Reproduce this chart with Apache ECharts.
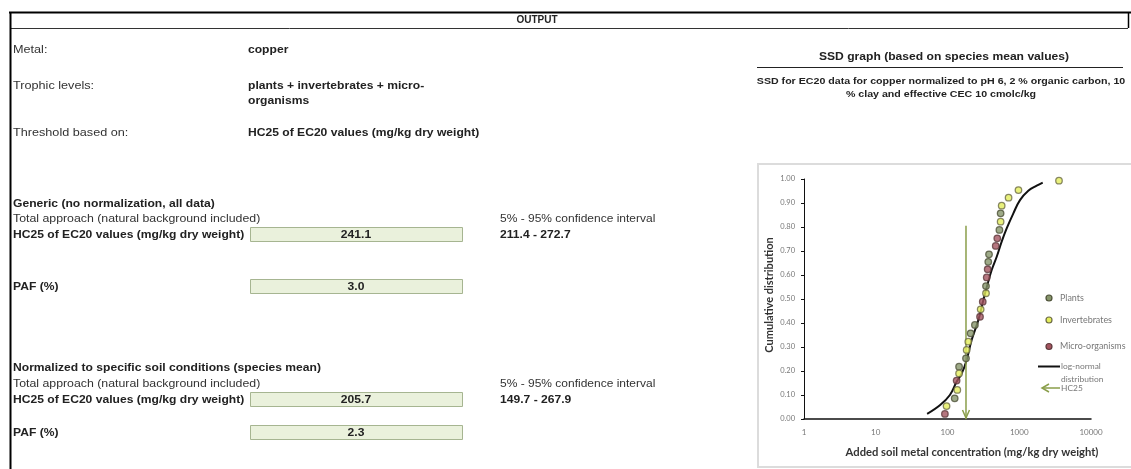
<!DOCTYPE html>
<html>
<head>
<meta charset="utf-8">
<script src="https://cdn.jsdelivr.net/npm/echarts@6/dist/echarts.min.js"></script>
<style>
html,body{margin:0;padding:0;background:#fff;}
#c{width:1131px;height:469px;}
</style>
</head>
<body>
<div id="c"></div>
<script>
// ---------------- data ----------------
const xTickValues = [1, 10, 100, 1000, 10000];
const yTickLabels = ['0.00','0.10','0.20','0.30','0.40','0.50','0.60','0.70','0.80','0.90','1.00'];

const plants = [[550,0.857],[529,0.788],[379,0.686],[370,0.655],[344,0.554],[241,0.392],[210,0.357],[181,0.253],[145,0.218],[126,0.086]];
const invertebrates = [[3580,0.993],[975,0.954],[710,0.922],[569,0.889],[550,0.822],[344,0.524],[290,0.457],[195,0.322],[185,0.288],[145,0.190],[137,0.121],[97,0.054]];
const microOrganisms = [[494,0.753],[470,0.721],[363,0.624],[352,0.590],[310,0.489],[284,0.426],[134,0.160],[92,0.021]];

const logNormalCurve = [[52,0.021],[79,0.058],[108,0.100],[134,0.155],[158,0.190],[185,0.246],[217,0.329],[269,0.412],[316,0.496],[359,0.558],[413,0.621],[485,0.676],[569,0.739],[668,0.794],[828,0.857],[1024,0.912],[1337,0.951],[1750,0.972],[2123,0.985]];

const hc25Arrow = [[181, 0.805]]; // x position, top of arrow

const seriesNames = ['Plants','Invertebrates','Micro-organisms'];
const lineLegend = ['log-normal', 'distribution'];
const hc25Legend = 'HC25';

const infoLabels = ['Metal:', 'Trophic levels:', 'Threshold based on:'];
const infoValues = ['copper', 'plants + invertebrates + micro-\norganisms', 'HC25 of EC20 values (mg/kg dry weight)'];

const sectionTitles = ['Generic (no normalization, all data)', 'Normalized to specific soil conditions (species mean)'];
const approachLabel = 'Total approach (natural background included)';
const hcLabel = 'HC25 of EC20 values (mg/kg dry weight)';
const pafLabel = 'PAF (%)';
const ciLabel = '5% - 95% confidence interval';
const hc25Values = ['241.1', '205.7'];
const ciValues = ['211.4 - 272.7', '149.7 - 267.9'];
const pafValues = ['3.0', '2.3'];

const headerText = 'OUTPUT';
const ssdTitle = 'SSD graph (based on species mean values)';
const ssdSubtitle = ['SSD for EC20 data for copper normalized to pH 6, 2 % organic carbon, 10', '% clay and effective CEC 10 cmolc/kg'];
const xAxisTitle = 'Added soil metal concentration (mg/kg dry weight)';
const yAxisTitle = 'Cumulative distribution';

// ---------------- styles ----------------
const SS = '"Liberation Sans", Arial, sans-serif';
const CF = 'Lato, "Open Sans", sans-serif';
const TXT = '#222';
const SX = 1.1;
const colPlants = {fill:'#86956a', stroke:'#4d5138'};
const colInv = {fill:'#e4ee5c', stroke:'#6d6b45'};
const colMicro = {fill:'#a3545f', stroke:'#5e3a3c'};
const arrowColor = '#8a9e4a';

function txt(text, x, y, font, opts) {
  opts = opts || {};
  return {type:'text', silent:true, z:10, x:x, y:y, scaleX: opts.sx || SX,
    style:{text:text, x:0, y:0, font:font, fill:opts.fill || TXT, align:opts.align || 'left', verticalAlign:'middle', lineHeight: opts.lineHeight || 14}};
}
function hline(x1,x2,y,w,c){return {type:'line', silent:true, z:5, shape:{x1:x1,y1:y,x2:x2,y2:y}, style:{stroke:c||'#000', lineWidth:w||1}};}
function vline(x,y1,y2,w,c){return {type:'line', silent:true, z:5, shape:{x1:x,y1:y1,x2:x,y2:y2}, style:{stroke:c||'#000', lineWidth:w||1}};}

const g = [];
// frame
g.push(hline(9, 1131, 12.5, 2));
g.push(hline(10, 1128, 28.5, 1, '#333'));
g.push(vline(10.5, 12, 469, 2));
g.push(vline(1128.5, 12, 28, 1.5));
g.push(txt(headerText, 537, 20.5, 'bold 10px ' + SS, {align:'center', sx:1}));

// info rows
const infoY = [50, 86, 133];
infoLabels.forEach((t,i)=>{ g.push(txt(t, 13, infoY[i], '11px ' + SS, {fill:'#333', sx:1.15})); });
g.push(txt('copper', 248, infoY[0], 'bold 11px ' + SS));
g.push(txt(infoValues[1], 248, infoY[1] + 7, 'bold 11px ' + SS, {lineHeight:15}));
g.push(txt(infoValues[2], 248, infoY[2], 'bold 11px ' + SS));

// sections
const secY = [[204,219,235,287],[368,384,400,433]];
sectionTitles.forEach((t,i)=>{
  const ys = secY[i];
  g.push(txt(t, 13, ys[0], 'bold 11px ' + SS));
  g.push(txt(approachLabel, 13, ys[1], '11px ' + SS, {fill:'#333', sx:1.12}));
  g.push(txt(hcLabel, 13, ys[2], 'bold 11px ' + SS));
  g.push({type:'rect', silent:true, z:4, shape:{x:250.5, y:ys[2]-7.5, width:212, height:14}, style:{fill:'#eaf1dc', stroke:'#a6b591', lineWidth:1}});
  g.push(txt(hc25Values[i], 356, ys[2], 'bold 11px ' + SS, {align:'center'}));
  g.push(txt(ciLabel, 500, ys[1], '11px ' + SS, {fill:'#333', sx:1.09}));
  g.push(txt(ciValues[i], 500, ys[2], 'bold 11px ' + SS));
  g.push(txt(pafLabel, 13, ys[3], 'bold 11px ' + SS));
  g.push({type:'rect', silent:true, z:4, shape:{x:250.5, y:ys[3]-7.5, width:212, height:14}, style:{fill:'#eaf1dc', stroke:'#a6b591', lineWidth:1}});
  g.push(txt(pafValues[i], 356, ys[3], 'bold 11px ' + SS, {align:'center'}));
});

// SSD header
g.push(txt(ssdTitle, 944, 57, 'bold 11px ' + SS, {align:'center'}));
g.push(hline(757, 1123, 67.5, 1, '#222'));
g.push(txt(ssdSubtitle[0], 941, 82, 'bold 8.5px ' + SS, {align:'center', sx:1.25}));
g.push(txt(ssdSubtitle[1], 941, 95, 'bold 8.5px ' + SS, {align:'center', sx:1.25}));

// chart box (outline only)
g.push({type:'rect', silent:true, z:0, shape:{x:758, y:164, width:380, height:303}, style:{fill:'none', stroke:'#dcdcdc', lineWidth:2}});

// axis titles
g.push(txt(xAxisTitle, 972, 452, 'bold 11px ' + CF, {align:'center', fill:'#333', sx:1.02}));
g.push({type:'text', silent:true, z:10, x:770, y:295, rotation:Math.PI/2, scaleX:1.05, style:{text:yAxisTitle, x:0, y:0, font:'bold 10.5px ' + CF, fill:'#333', align:'center', verticalAlign:'middle'}});

// legend
const legY = [298, 320, 346.5];
const legCols = [colPlants, colInv, colMicro];
seriesNames.forEach((n,i)=>{
  g.push({type:'circle', silent:true, z:10, shape:{cx:1049, cy:legY[i], r:3}, style:{fill:legCols[i].fill, stroke:legCols[i].stroke, lineWidth:1.2}});
  g.push(txt(n, 1060, legY[i], '8.5px ' + CF, {fill:'#777', sx:1.05}));
});
g.push(hline(1038, 1060, 366.5, 2, '#111'));
g.push(txt(lineLegend[0], 1061, 366, '8px ' + CF, {fill:'#777', sx:1.05}));
g.push(txt(lineLegend[1], 1061, 379, '8px ' + CF, {fill:'#777', sx:1.05}));
g.push(hline(1042, 1060, 388, 1.5, arrowColor));
g.push({type:'polyline', silent:true, z:10, shape:{points:[[1049,384],[1042,388],[1049,392]]}, style:{stroke:arrowColor, lineWidth:1.5, fill:null}});
g.push(txt(hc25Legend, 1061, 388, '8px ' + CF, {fill:'#777', sx:1.05}));

const chart = echarts.init(document.getElementById('c'), null, {renderer:'canvas'});
chart.setOption({
  animation:false,
  backgroundColor:'#fff',
  graphic: g,
  grid:{left:804, top:179, width:287, height:240, containLabel:false},
  xAxis:{
    type:'log', logBase:10, min:xTickValues[0], max:xTickValues[xTickValues.length-1],
    axisLine:{show:true, onZero:false, lineStyle:{color:'#111', width:1.5}},
    axisTick:{show:false}, splitLine:{show:false}, minorTick:{show:false},
    axisLabel:{color:'#777', fontSize:8, fontFamily:'Lato', margin:9, formatter:(v)=>String(v), showMinLabel:true, showMaxLabel:true}
  },
  yAxis:{
    type:'value', min:0, max:1, interval:0.1,
    axisLine:{show:true, lineStyle:{color:'#111', width:1}},
    axisTick:{show:true, inside:false, length:3, lineStyle:{color:'#111'}},
    splitLine:{show:false},
    axisLabel:{color:'#777', fontSize:7.5, fontFamily:'Lato', margin:9, formatter:(v)=>yTickLabels[Math.round(v*10)]}
  },
  series:[
    {type:'line', name:'log-normal distribution', data:logNormalCurve, smooth:0.4, showSymbol:false, symbol:'none', lineStyle:{color:'#111', width:2}, z:2},
    {type:'custom', name:'HC25', data:hc25Arrow, z:3,
      renderItem:function(params, api){
        const top = api.coord([api.value(0), api.value(1)]);
        const bot = api.coord([api.value(0), 0]);
        return {type:'group', children:[
          {type:'line', shape:{x1:top[0], y1:top[1], x2:bot[0], y2:bot[1]}, style:{stroke:arrowColor, lineWidth:1.5}},
          {type:'polyline', shape:{points:[[bot[0]-3.5, bot[1]-9],[bot[0], bot[1]-1],[bot[0]+3.5, bot[1]-9]]}, style:{stroke:arrowColor, lineWidth:1.5, fill:null}}
        ]};
      }
    },
    {type:'scatter', name:seriesNames[0], data:plants, symbolSize:6.5, itemStyle:{color:colPlants.fill, borderColor:colPlants.stroke, borderWidth:1.3}, z:4},
    {type:'scatter', name:seriesNames[1], data:invertebrates, symbolSize:6.5, itemStyle:{color:colInv.fill, borderColor:colInv.stroke, borderWidth:1.3}, z:4},
    {type:'scatter', name:seriesNames[2], data:microOrganisms, symbolSize:6.5, itemStyle:{color:colMicro.fill, borderColor:colMicro.stroke, borderWidth:1.3}, z:4}
  ]
});
</script>
</body>
</html>
